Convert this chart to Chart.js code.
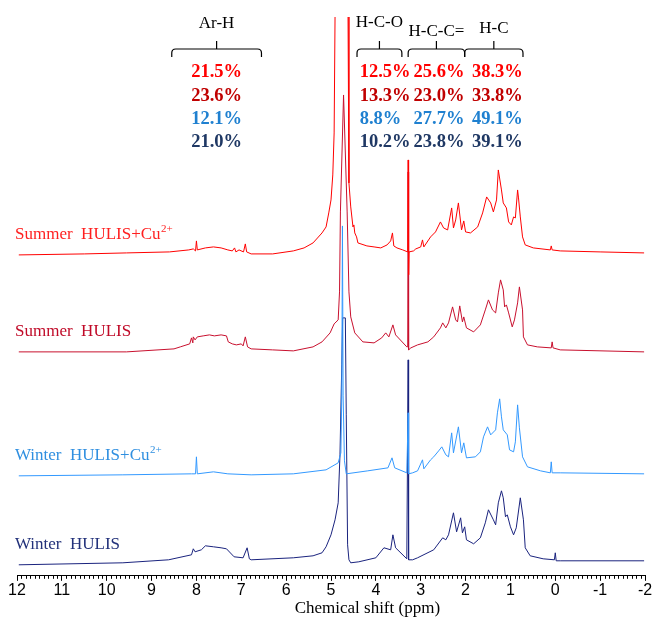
<!DOCTYPE html>
<html>
<head>
<meta charset="utf-8">
<script src="https://cdn.jsdelivr.net/npm/chart.js@4.4.0/dist/chart.umd.min.js"></script>
<style>
  html, body { margin: 0; padding: 0; background: #fff; }
  #wrap { width: 654px; height: 617px; }
</style>
</head>
<body>
<div id="wrap"><canvas id="nmrChart" width="654" height="617"></canvas></div>
<script>
// 1H NMR spectra of HULIS (ppm, intensity above own baseline)
const summerCuPpm = [11.96, 10.5, 9.56, 8.6, 8.17, 8.07, 8.02, 8.0, 7.98, 7.8, 7.62, 7.45, 7.3, 7.2, 7.15, 7.12, 7.05, 6.95, 6.91, 6.88, 6.78, 6.3, 5.84, 5.6, 5.4, 5.2, 5.11, 5.05, 5.0, 4.96, 4.93, 4.91, 4.85, 4.77, 4.68, 4.62, 4.6, 4.56, 4.51, 4.49, 4.47, 4.43, 4.4, 4.2, 4.04, 3.89, 3.75, 3.67, 3.63, 3.6, 3.53, 3.4, 3.29, 3.28, 3.27, 3.26, 3.16, 3.11, 3.0, 2.96, 2.93, 2.78, 2.67, 2.56, 2.49, 2.4, 2.31, 2.27, 2.22, 2.16, 2.09, 2.04, 2.0, 1.89, 1.73, 1.62, 1.53, 1.44, 1.38, 1.31, 1.27, 1.2, 1.16, 1.09, 1.04, 0.98, 0.93, 0.89, 0.84, 0.82, 0.78, 0.73, 0.67, 0.49, 0.11, 0.09, 0.07, -0.11, -1.0, -1.98];
const summerCuInt = [0, 1, 2, 3, 5, 6, 4, 14, 5, 7, 8, 7, 5, 4, 7, 3, 5, 3, 11, 3, 1, 1, 4, 7, 12, 22, 28, 42, 55, 80, 122, 238, 400, 600, 400, 238, 72, 48, 28, 30, 22, 18, 12, 9, 8, 7, 10, 14, 22, 9, 7, 5, 3, 95, -20, 3, 4, 6, 8, 15, 8, 18, 23, 33, 27, 25, 47, 27, 35, 52, 25, 34, 23, 22, 28, 42, 58, 52, 43, 55, 85, 65, 52, 47, 33, 30, 38, 37, 65, 57, 38, 18, 10, 7, 5, 9, 5, 4, 3, 2];

const summerPpm = [11.96, 9.56, 8.5, 8.36, 8.15, 8.11, 8.08, 8.07, 8.03, 7.98, 7.85, 7.71, 7.6, 7.45, 7.33, 7.29, 7.2, 7.11, 7.0, 6.96, 6.91, 6.86, 6.78, 6.3, 5.84, 5.4, 5.2, 5.02, 4.93, 4.84, 4.81, 4.79, 4.72, 4.64, 4.6, 4.56, 4.47, 4.29, 4.04, 3.87, 3.78, 3.71, 3.62, 3.56, 3.31, 3.29, 3.28, 3.27, 3.22, 3.07, 2.84, 2.71, 2.56, 2.51, 2.44, 2.38, 2.29, 2.22, 2.18, 2.13, 2.07, 2.04, 1.98, 1.82, 1.67, 1.56, 1.49, 1.4, 1.33, 1.27, 1.22, 1.16, 1.13, 1.09, 1.04, 0.96, 0.91, 0.84, 0.8, 0.73, 0.71, 0.62, 0.4, 0.09, 0.07, 0.05, -0.11, -1.98];
const summerInt = [0, 0, 3, 5, 8, 14, 9, 15, 12, 15, 16, 17, 16, 17, 16, 10, 8, 7, 8, 6, 15, 5, 3, 2, 1, 5, 10, 19, 28, 32, 60, 140, 257, 140, 60, 35, 19, 10, 9, 14, 19, 15, 27, 17, 5, 5, 180, 2, 4, 7, 10, 15, 24, 29, 24, 29, 45, 32, 30, 46, 30, 35, 24, 20, 27, 42, 52, 42, 39, 59, 72, 62, 45, 47, 39, 25, 32, 49, 65, 42, 15, 7, 5, 4, 10, 4, 2, 0];

const winterCuPpm = [11.96, 9.64, 8.11, 8.02, 8.0, 7.98, 7.62, 7.3, 6.78, 5.84, 5.11, 4.84, 4.78, 4.76, 4.745, 4.73, 4.7, 4.66, 4.18, 3.73, 3.64, 3.58, 3.31, 3.28, 3.27, 3.18, 3.07, 2.96, 2.93, 2.78, 2.71, 2.6, 2.53, 2.44, 2.38, 2.31, 2.27, 2.16, 2.09, 2.04, 1.98, 1.78, 1.67, 1.6, 1.51, 1.44, 1.33, 1.29, 1.24, 1.2, 1.16, 1.07, 1.02, 0.93, 0.89, 0.84, 0.8, 0.73, 0.62, 0.33, 0.11, 0.09, 0.07, -0.11, -1.98];
const winterCuInt = [0, 1, 2, 2, 19, 2, 4, 2, 1, 2, 6, 13, 23, 80, 250, 80, 15, 2, 5, 8, 18, 8, 3, 63, 2, 3, 5, 16, 7, 16, 19, 25, 29, 21, 19, 43, 23, 49, 23, 33, 18, 19, 24, 39, 49, 41, 46, 63, 77, 59, 46, 41, 26, 24, 34, 71, 48, 19, 9, 5, 3, 14, 3, 3, 2];

const winterPpm = [11.96, 9.64, 8.62, 8.11, 8.07, 8.03, 7.89, 7.8, 7.62, 7.45, 7.33, 7.16, 6.96, 6.87, 6.82, 6.78, 5.84, 5.4, 5.2, 5.11, 5.0, 4.91, 4.84, 4.8, 4.76, 4.74, 4.68, 4.66, 4.63, 4.6, 4.56, 4.38, 4.0, 3.82, 3.67, 3.62, 3.56, 3.31, 3.28, 3.27, 3.18, 3.07, 2.71, 2.51, 2.44, 2.38, 2.27, 2.2, 2.11, 2.07, 2.02, 1.98, 1.82, 1.67, 1.56, 1.49, 1.38, 1.33, 1.27, 1.2, 1.16, 1.11, 1.07, 1.0, 0.93, 0.87, 0.78, 0.71, 0.67, 0.56, 0.27, 0.02, 0.0, -0.02, -0.11, -1.98];
const winterInt = [0, 2, 5, 10, 16, 13, 15, 19, 18, 17, 16, 8, 7, 17, 6, 5, 7, 9, 12, 18, 30, 45, 62, 110, 200, 247, 247, 150, 20, 5, 2, 3, 7, 17, 15, 30, 17, 6, 205, 5, 5, 7, 15, 27, 25, 30, 52, 33, 47, 32, 38, 25, 21, 27, 42, 55, 45, 40, 62, 74, 67, 48, 50, 38, 30, 37, 67, 45, 17, 9, 6, 5, 12, 4, 4, 4];

const sampleNames = ['Summer  HULIS+Cu', 'Summer  HULIS', 'Winter  HULIS+Cu', 'Winter  HULIS'];
const withCopper = [true, false, true, false];

// integrated regions (ppm bounds, label) and their share of total H (%)
const regionNames = ['Ar-H', 'H-C-O', 'H-C-C=', 'H-C'];
const regionBounds = [[8.55, 6.55], [4.42, 3.42], [3.28, 2.02], [2.02, 0.72]];
const pctArH = [21.5, 23.6, 12.1, 21.0];
const pctHCO = [12.5, 13.3, 8.8, 10.2];
const pctHCC = [25.6, 23.0, 27.7, 23.8];
const pctHC = [38.3, 33.8, 49.1, 39.1];

const lineColors = ['#FF0000', '#C8102E', '#3399FF', '#1A237E'];
const textColors = ['#FF1F1F', '#C00A28', '#2F8FE0', '#22317A'];
const pctColors = ['#FF0000', '#C00000', '#1F80D0', '#1F3864'];
const stackOffsets = [321, 224, 100, 11];

const serif = '"Liberation Serif", "Times New Roman", serif';

function buildPoints(ppm, vals, offset) {
    return ppm.map((p, i) => ({ x: p, y: vals[i] + offset }));
}

const seriesData = [
    buildPoints(summerCuPpm, summerCuInt, stackOffsets[0]),
    buildPoints(summerPpm, summerInt, stackOffsets[1]),
    buildPoints(winterCuPpm, winterCuInt, stackOffsets[2]),
    buildPoints(winterPpm, winterInt, stackOffsets[3]),
];

function drawBrace(ctx, x1, x2, xm) {
    const y = 49, yEnd = 57, yTop = 41, r = 4;
    ctx.beginPath();
    ctx.moveTo(x1, yEnd);
    ctx.lineTo(x1, y + r);
    ctx.quadraticCurveTo(x1, y, x1 + r, y);
    ctx.lineTo(x2 - r, y);
    ctx.quadraticCurveTo(x2, y, x2, y + r);
    ctx.lineTo(x2, yEnd);
    ctx.moveTo(xm, y);
    ctx.lineTo(xm, yTop);
    ctx.stroke();
}

const annotations = {
    id: 'annotations',
    afterDraw(chart) {
        const { ctx, scales: { x, y }, chartArea } = chart;
        ctx.save();

        // minor ticks every 0.1 ppm
        ctx.strokeStyle = '#000';
        ctx.lineWidth = 1;
        ctx.beginPath();
        for (let k = -20; k <= 120; k++) {
            if (k % 10 === 0) continue;
            const px = Math.round(x.getPixelForValue(k / 10)) + 0.5;
            ctx.moveTo(px, chartArea.bottom);
            ctx.lineTo(px, chartArea.bottom + 3);
        }
        ctx.stroke();

        // axis title
        ctx.fillStyle = '#000';
        ctx.font = '17px ' + serif;
        ctx.textAlign = 'center';
        ctx.textBaseline = 'middle';
        ctx.fillText('Chemical shift (ppm)', x.getPixelForValue(4.19), 609);

        // region braces and labels
        ctx.lineWidth = 1.2;
        const labelY = [24, 23, 32, 29];
        regionBounds.forEach(([a, b], i) => {
            const x1 = x.getPixelForValue(a);
            const x2 = x.getPixelForValue(b);
            const xm = (x1 + x2) / 2;
            drawBrace(ctx, x1, x2, xm);
            ctx.fillText(regionNames[i], xm, labelY[i]);
        });

        // percentages
        ctx.font = 'bold 18.5px ' + serif;
        const rowY = [72, 96, 119, 142];
        const cols = [
            { vals: pctArH, ppm: 7.55, align: 'center' },
            { vals: pctHCO, ppm: 4.36, align: 'left' },
            { vals: pctHCC, ppm: 3.16, align: 'left' },
            { vals: pctHC, ppm: 1.29, align: 'center' },
        ];
        cols.forEach((col) => {
            ctx.textAlign = col.align;
            col.vals.forEach((v, r) => {
                ctx.fillStyle = pctColors[r];
                ctx.fillText(v.toFixed(1) + '%', x.getPixelForValue(col.ppm), rowY[r]);
            });
        });

        // sample names
        ctx.textAlign = 'left';
        sampleNames.forEach((name, i) => {
            const py = y.getPixelForValue(stackOffsets[i]) - 20;
            const px = 15;
            ctx.fillStyle = textColors[i];
            ctx.font = '17px ' + serif;
            ctx.fillText(name, px, py);
            if (withCopper[i]) {
                const w = ctx.measureText(name).width;
                ctx.font = '11px ' + serif;
                ctx.fillText('2+', px + w + 0.5, py - 6);
            }
        });

        ctx.restore();
    },
};

new Chart(document.getElementById('nmrChart'), {
    type: 'line',
    data: {
        datasets: sampleNames.map((name, i) => ({
            label: name,
            data: seriesData[i],
            borderColor: lineColors[i],
            borderWidth: 1,
            pointRadius: 0,
            tension: 0,
            fill: false,
        })),
    },
    options: {
        responsive: false,
        animation: false,
        layout: { padding: { top: 17, left: 17, right: 9, bottom: 17 } },
        plugins: {
            legend: { display: false },
            tooltip: { enabled: false },
        },
        scales: {
            x: {
                type: 'linear',
                reverse: true,
                min: -2,
                max: 12,
                border: { display: true, color: '#000', width: 1 },
                grid: { display: true, drawOnChartArea: false, drawTicks: true, tickLength: 5, color: '#000' },
                ticks: {
                    stepSize: 1,
                    autoSkip: false,
                    maxRotation: 0,
                    padding: 0,
                    color: '#000',
                    font: { family: '"Liberation Sans", Arial, sans-serif', size: 16 },
                },
            },
            y: { display: false, min: 0, max: 559 },
        },
    },
    plugins: [annotations],
});
</script>
</body>
</html>
